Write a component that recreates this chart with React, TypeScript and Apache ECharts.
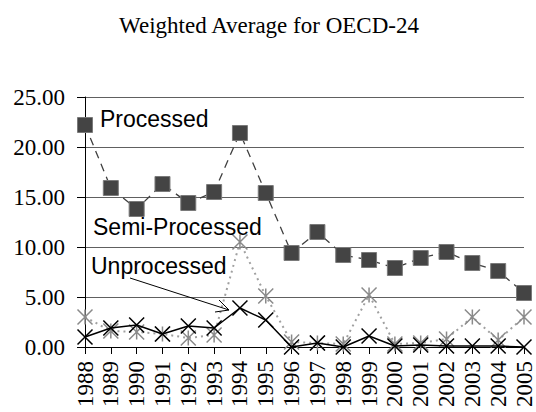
import React, { useEffect, useRef } from "react";
import * as echarts from "echarts";

const years = ["1988","1989","1990","1991","1992","1993","1994","1995","1996","1997","1998","1999","2000","2001","2002","2003","2004","2005"];
const processed = [22.2,15.9,13.8,16.3,14.4,15.5,21.4,15.4,9.4,11.5,9.2,8.7,7.9,8.9,9.5,8.4,7.6,5.4];
const semiProcessed = [3.0,1.6,1.5,1.3,0.9,1.2,10.5,5.1,0.5,0.4,0.3,5.2,0.3,0.4,0.8,3.0,0.7,3.0];
const unprocessed = [1.0,1.9,2.2,1.3,2.1,1.9,3.9,2.7,0.0,0.4,0.0,1.1,0.1,0.2,0.1,0.1,0.1,0.0];
const yTicks = [0, 5, 10, 15, 20, 25];

const X_PATH = "path://M0,0L16,16M16,0L0,16";
const AST_PATH = "path://M0,0L16,16M16,0L0,16M8,0L8,16";

export default function App() {
  const ref = useRef<HTMLDivElement>(null);
  useEffect(() => {
    const chart = echarts.init(ref.current!, null, { renderer: "svg" });
    chart.setOption({
      animation: false,
      backgroundColor: "#ffffff",
      grid: { left: 85, right: 12, top: 97, bottom: 65, containLabel: false, outerBoundsMode: "none" },
      xAxis: {
        type: "category",
        data: years,
        boundaryGap: false,
        axisLine: { lineStyle: { color: "#000", width: 1 } },
        axisTick: { show: true, length: 7, lineStyle: { color: "#000" } },
        axisLabel: { rotate: 90, margin: 14, fontFamily: "Liberation Serif", fontSize: 23, color: "#000", interval: 0 },
      },
      yAxis: {
        type: "value",
        min: yTicks[0],
        max: yTicks[yTicks.length - 1],
        interval: 5,
        axisLine: { show: true, lineStyle: { color: "#000", width: 1 } },
        axisTick: { show: true, length: 8, lineStyle: { color: "#000" } },
        axisLabel: { margin: 20, fontFamily: "Liberation Serif", fontSize: 23, color: "#000", formatter: (v: number) => v.toFixed(2) },
        splitLine: { show: true, lineStyle: { color: "#606060", width: 1 } },
      },
      series: [
        {
          name: "Semi-Processed",
          type: "line",
          data: semiProcessed,
          symbol: AST_PATH,
          symbolSize: 15,
          lineStyle: { color: "#a0a0a0", width: 2, type: [2, 4] },
          itemStyle: { color: "#8a8a8a", borderColor: "#8a8a8a", borderWidth: 1.5 },
          z: 2,
        },
        {
          name: "Unprocessed",
          type: "line",
          data: unprocessed,
          symbol: X_PATH,
          symbolSize: 15,
          lineStyle: { color: "#000", width: 1.5 },
          itemStyle: { color: "#000", borderColor: "#000", borderWidth: 1.5 },
          z: 3,
        },
        {
          name: "Processed",
          type: "line",
          data: processed,
          symbol: "rect",
          symbolSize: 15,
          lineStyle: { color: "#404040", width: 1.3, type: [8, 6] },
          itemStyle: { color: "#444444", borderColor: "#7a7a7a", borderWidth: 1 },
          z: 4,
        },
      ],
      graphic: [
        { type: "text", x: 269, y: 25, style: { text: "Weighted Average for OECD-24", fontFamily: "Liberation Serif", fontSize: 23, fill: "#000", textAlign: "center", textVerticalAlign: "middle" } },
        { type: "text", x: 100, y: 119, z: 10, style: { text: "Processed", fontFamily: "Liberation Sans", fontSize: 23, fill: "#000", textAlign: "left", textVerticalAlign: "middle" } },
        { type: "text", x: 93, y: 227, z: 10, style: { text: "Semi-Processed", fontFamily: "Liberation Sans", fontSize: 23, fill: "#000", textAlign: "left", textVerticalAlign: "middle" } },
        { type: "text", x: 91, y: 266, z: 10, style: { text: "Unprocessed", fontFamily: "Liberation Sans", fontSize: 23, fill: "#000", textAlign: "left", textVerticalAlign: "middle" } },
        { type: "line", z: 10, shape: { x1: 130, y1: 278, x2: 229, y2: 310 }, style: { stroke: "#000", lineWidth: 1 } },
        { type: "polyline", z: 10, shape: { points: [[219, 300], [229, 310], [215, 312]] }, style: { stroke: "#000", lineWidth: 1, fill: null } },
      ],
    });
    return () => chart.dispose();
  }, []);
  return <div ref={ref} style={{ position: "fixed", left: 0, top: 0, width: 536, height: 412 }} />;
}
